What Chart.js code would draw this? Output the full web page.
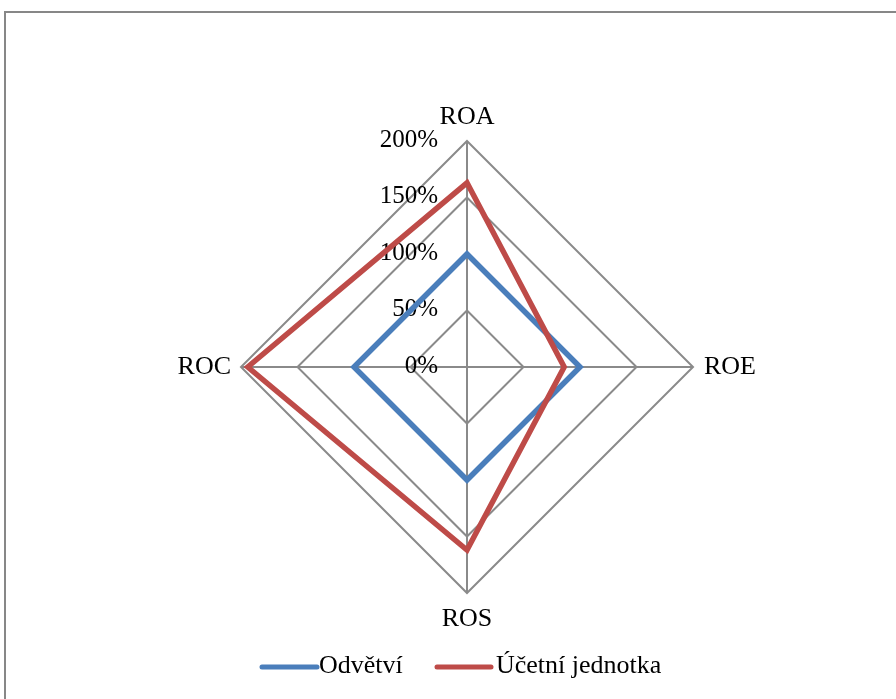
<!DOCTYPE html>
<html><head><meta charset="utf-8">
<script src="https://cdn.jsdelivr.net/npm/chart.js@4"></script>
<style>
html,body{margin:0;padding:0;background:#fff;overflow:hidden}
#wrap{position:relative;width:896px;height:699px}
#frame{position:absolute;left:4px;top:11px;width:1000px;height:1000px;border:2px solid #878787;box-sizing:border-box}
canvas{position:absolute;left:0;top:0}
</style></head><body>
<div id="wrap"><div id="frame"></div><canvas id="c" width="896" height="699"></canvas></div>
<script>
// Rentability indicators: industry vs. accounting unit
const categories = ['ROA', 'ROE', 'ROS', 'ROC'];
const odvetvi = [100, 100, 100, 100];
const jednotka = [163, 86, 162, 194];
const tickValues = [0, 50, 100, 150, 200];
const tickLabels = ['0%', '50%', '100%', '150%', '200%'];
const seriesNames = ['Odvětví', 'Účetní jednotka'];
const seriesColors = ['#4A7EBB', '#BE4B48'];

const FONT = '"Liberation Serif", "Times New Roman", serif';

// percentage tick labels, placed left of the vertical axis
const tickLabelPlugin = {
  id: 'tickLabelPlugin',
  beforeDatasetsDraw(chart) {
    const r = chart.scales.r, ctx = chart.ctx;
    ctx.save();
    ctx.font = '25px ' + FONT;
    ctx.fillStyle = '#000';
    ctx.textAlign = 'right';
    ctx.textBaseline = 'middle';
    tickValues.forEach((v, i) => {
      const d = r.getDistanceFromCenterForValue(v);
      ctx.fillText(tickLabels[i], r.xCenter - 29, r.yCenter - d - 1);
    });
    ctx.restore();
  }
};

// category names at the ends of the axes
const pointLabelPlugin = {
  id: 'pointLabelPlugin',
  afterDraw(chart) {
    const r = chart.scales.r, ctx = chart.ctx;
    const dist = r.getDistanceFromCenterForValue(r.max);
    ctx.save();
    ctx.font = '26px ' + FONT;
    ctx.fillStyle = '#000';
    categories.forEach((c, i) => {
      const p = r.getPointPosition(i, dist);
      if (i === 0) { ctx.textAlign = 'center'; ctx.textBaseline = 'alphabetic'; ctx.fillText(c, p.x, p.y - 17); }
      else if (i === 1) { ctx.textAlign = 'left'; ctx.textBaseline = 'middle'; ctx.fillText(c, p.x + 11, p.y); }
      else if (i === 2) { ctx.textAlign = 'center'; ctx.textBaseline = 'alphabetic'; ctx.fillText(c, p.x, p.y + 33); }
      else { ctx.textAlign = 'right'; ctx.textBaseline = 'middle'; ctx.fillText(c, p.x - 10, p.y); }
    });
    ctx.restore();
  }
};

// legend with line samples below the plot
const legendPlugin = {
  id: 'legendPlugin',
  afterDraw(chart) {
    const ctx = chart.ctx;
    const items = [{x0: 262, x1: 317, tx: 319}, {x0: 437, x1: 491, tx: 496}];
    const y = 667;
    ctx.save();
    ctx.font = '26px ' + FONT;
    ctx.textBaseline = 'middle';
    ctx.textAlign = 'left';
    chart.data.datasets.forEach((ds, i) => {
      const it = items[i];
      ctx.strokeStyle = ds.borderColor;
      ctx.lineWidth = 5;
      ctx.lineCap = 'round';
      ctx.beginPath();
      ctx.moveTo(it.x0, y);
      ctx.lineTo(it.x1, y);
      ctx.stroke();
      ctx.fillStyle = '#000';
      ctx.fillText(ds.label, it.tx, y - 1);
    });
    ctx.restore();
  }
};

new Chart(document.getElementById('c'), {
  type: 'radar',
  data: {
    labels: categories,
    datasets: [
      {label: seriesNames[0], data: odvetvi, borderColor: seriesColors[0], backgroundColor: seriesColors[0],
       fill: false, borderWidth: 5.5, pointRadius: 0, borderJoinStyle: 'miter', order: 1},
      {label: seriesNames[1], data: jednotka, borderColor: seriesColors[1], backgroundColor: seriesColors[1],
       fill: false, borderWidth: 5.5, pointRadius: 0, borderJoinStyle: 'miter', order: 0}
    ]
  },
  options: {
    responsive: false,
    animation: false,
    devicePixelRatio: 1,
    layout: {padding: {left: 241, right: 203, top: 141, bottom: 106}},
    plugins: {legend: {display: false}, tooltip: {enabled: false}},
    scales: {
      r: {
        min: 0, max: 200,
        ticks: {stepSize: 50, display: false},
        grid: {color: '#8A8A8A', lineWidth: 2},
        angleLines: {color: '#8A8A8A', lineWidth: 2},
        pointLabels: {display: false}
      }
    }
  },
  plugins: [tickLabelPlugin, pointLabelPlugin, legendPlugin]
});
</script>
</body></html>
